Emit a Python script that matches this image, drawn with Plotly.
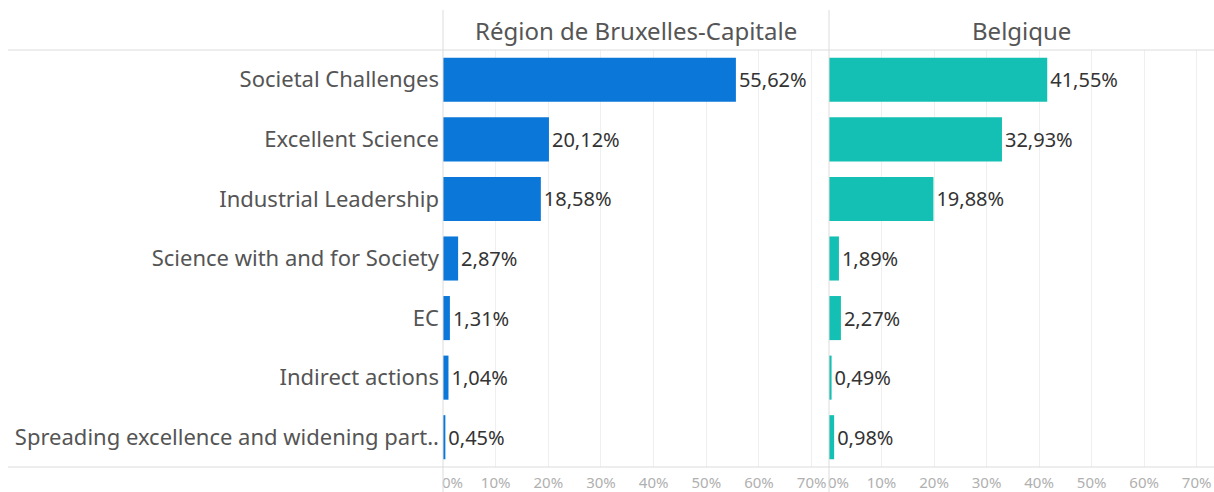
import plotly.graph_objects as go

categories = [
    "Societal Challenges",
    "Excellent Science",
    "Industrial Leadership",
    "Science with and for Society",
    "EC",
    "Indirect actions",
    "Spreading excellence and widening part..",
]
bruxelles = [55.62, 20.12, 18.58, 2.87, 1.31, 1.04, 0.45]
belgique = [41.55, 32.93, 19.88, 1.89, 2.27, 0.49, 0.98]
panel_titles = ["Région de Bruxelles-Capitale", "Belgique"]
tick_vals = [0, 10, 20, 30, 40, 50, 60, 70]
tick_text = ["\u2003\u00a00%"] + [f"{v}%" for v in tick_vals[1:]]

W, H = 1214, 492
L, R, T, B = 443, 0, 50, 25
pw = W - L - R
ph = H - T - B
split = 386 / pw
FONT = "Noto Sans"


def fmt(v):
    return f"{v:.2f}%".replace(".", ",")


fig = go.Figure()
colors = ["#0a77d9", "#14bfb3"]
for i, (vals, col) in enumerate([(bruxelles, colors[0]), (belgique, colors[1])]):
    fig.add_trace(go.Bar(
        x=vals, y=categories, orientation="h",
        marker=dict(color=col, line=dict(width=0)),
        text=[fmt(v) for v in vals], textposition="outside",
        textfont=dict(size=20, color="#333333", family=FONT),
        cliponaxis=False,
        xaxis="x" if i == 0 else "x2", yaxis="y",
        hoverinfo="skip", showlegend=False,
    ))

xcommon = dict(
    range=[0, 73.3], tickvals=tick_vals, ticktext=tick_text,
    showgrid=True, gridcolor="#efefef", gridwidth=1,
    zeroline=False, showline=False, ticks="", ticklabelstandoff=5,
    tickfont=dict(size=15, color="#b0b0b0", family=FONT),
    anchor="y", fixedrange=True,
)
fig.update_layout(
    width=W, height=H,
    margin=dict(l=L, r=R, t=T, b=B),
    plot_bgcolor="white", paper_bgcolor="white",
    bargap=0.26,
    xaxis=dict(domain=[0, split], **xcommon),
    xaxis2=dict(domain=[split, 1], **xcommon),
    yaxis=dict(
        autorange="reversed", showgrid=False, zeroline=False, showline=False,
        ticks="", ticklabelstandoff=3,
        tickfont=dict(size=22, color="#555555", family=FONT),
        fixedrange=True,
    ),
)


def px_x(x):
    return (x - L) / pw


def px_y(y):
    return 1 - (y - T) / ph


line = dict(color="#dcdcdc", width=1)
shapes = [
    dict(type="line", xref="paper", yref="paper", x0=px_x(8), x1=px_x(W), y0=px_y(50), y1=px_y(50), line=line),
    dict(type="line", xref="paper", yref="paper", x0=px_x(8), x1=px_x(W), y0=px_y(467), y1=px_y(467), line=line),
    dict(type="line", xref="paper", yref="paper", x0=0, x1=0, y0=px_y(H), y1=px_y(10), line=line),
    dict(type="line", xref="paper", yref="paper", x0=split, x1=split, y0=px_y(H), y1=px_y(10), line=line),
]
fig.update_layout(shapes=shapes)

for i, t in enumerate(panel_titles):
    cx = split / 2 if i == 0 else (split + 1) / 2
    fig.add_annotation(
        text=t, xref="paper", yref="paper", x=cx, y=px_y(30),
        xanchor="center", yanchor="middle", showarrow=False,
        font=dict(size=24, color="#555555", family=FONT),
    )

fig.write_html(
    "out.html",
    config={"displayModeBar": False},
    post_script="document.body.style.margin='0';document.body.style.overflow='hidden';",
)
